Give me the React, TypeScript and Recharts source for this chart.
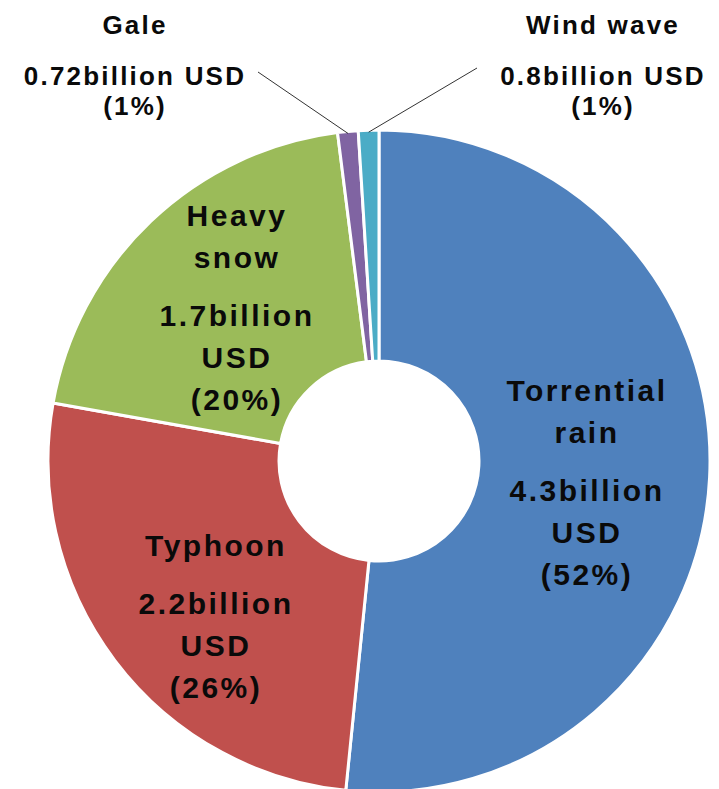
import React from 'react';
import { PieChart, Pie, Cell } from 'recharts';

// ---- data ----
const categories = ['Torrential rain', 'Typhoon', 'Heavy snow', 'Gale', 'Wind wave'];
const shares = [51.6, 26.2, 20.2, 1, 1]; // slice sizes (%) as drawn
const nameLines = [['Torrential', 'rain'], ['Typhoon'], ['Heavy', 'snow'], ['Gale'], ['Wind wave']];
const amounts = ['4.3', '2.2', '1.7', '0.72', '0.8']; // billion USD
const percentLabels = ['(52%)', '(26%)', '(20%)', '(1%)', '(1%)'];
const colors = ['#4F81BD', '#C0504D', '#9BBB59', '#8064A2', '#4BACC6'];

const data = categories.map((name, i) => ({ name, value: shares[i] }));

// ---- label placement (annotation layout) ----
const innerLabelPos = [
  { x: 587, y: 401 },
  { x: 216, y: 556 },
  { x: 237, y: 226 },
];
const outerLabelPos = [
  { x: 135, y: 34, lineX: 258, lineY: 72 },
  { x: 603, y: 34, lineX: 477, lineY: 68 },
];

const FONT = "'Liberation Sans', Arial, sans-serif";
const RAD = Math.PI / 180;

const renderLabel = (props: any) => {
  const { cx, cy, midAngle, outerRadius, index } = props;
  const textStyle: React.CSSProperties = {
    fontFamily: FONT,
    fontWeight: 700,
    fill: '#0a0a0a',
  };
  if (index < 3) {
    const pos = innerLabelPos[index];
    const lines: { t: string; dy: number }[] = [];
    let y = pos.y;
    nameLines[index].forEach((t) => {
      lines.push({ t, dy: y });
      y += 42;
    });
    y += 16;
    lines.push({ t: `${amounts[index]}billion`, dy: y });
    y += 42;
    lines.push({ t: 'USD', dy: y });
    y += 42;
    lines.push({ t: percentLabels[index], dy: y });
    return (
      <g key={`lbl-${index}`}>
        {lines.map((l, k) => (
          <text
            key={k}
            x={pos.x}
            y={l.dy}
            textAnchor="middle"
            style={{ ...textStyle, fontSize: 30, letterSpacing: 2.5 }}
          >
            {l.t}
          </text>
        ))}
      </g>
    );
  }
  const pos = outerLabelPos[index - 3];
  const ex = cx + Math.cos(-midAngle * RAD) * (outerRadius - 2);
  const ey = cy + Math.sin(-midAngle * RAD) * (outerRadius - 2);
  const lines = [nameLines[index][0], `${amounts[index]}billion USD`, percentLabels[index]];
  const ys = [pos.y, pos.y + 51, pos.y + 81];
  return (
    <g key={`lbl-${index}`}>
      <line x1={pos.lineX} y1={pos.lineY} x2={ex} y2={ey} stroke="#333" strokeWidth={1} />
      {lines.map((t, k) => (
        <text
          key={k}
          x={pos.x}
          y={ys[k]}
          textAnchor="middle"
          style={{ ...textStyle, fontSize: 26, letterSpacing: 2.2 }}
        >
          {t}
        </text>
      ))}
    </g>
  );
};

export default function App() {
  return (
    <div
      style={{
        position: 'absolute',
        left: 0,
        top: 0,
        width: 719,
        height: 789,
        background: '#fff',
        overflow: 'hidden',
      }}
    >
      <PieChart width={719} height={789} margin={{ top: 0, right: 0, bottom: 0, left: 0 }}>
        <Pie
          data={data}
          dataKey="value"
          nameKey="name"
          cx={379}
          cy={461}
          innerRadius={100}
          outerRadius={331}
          startAngle={90}
          endAngle={-270}
          stroke="#fff"
          strokeWidth={3}
          isAnimationActive={false}
          label={renderLabel}
          labelLine={false}
        >
          {data.map((d, i) => (
            <Cell key={d.name} fill={colors[i]} />
          ))}
        </Pie>
      </PieChart>
    </div>
  );
}
